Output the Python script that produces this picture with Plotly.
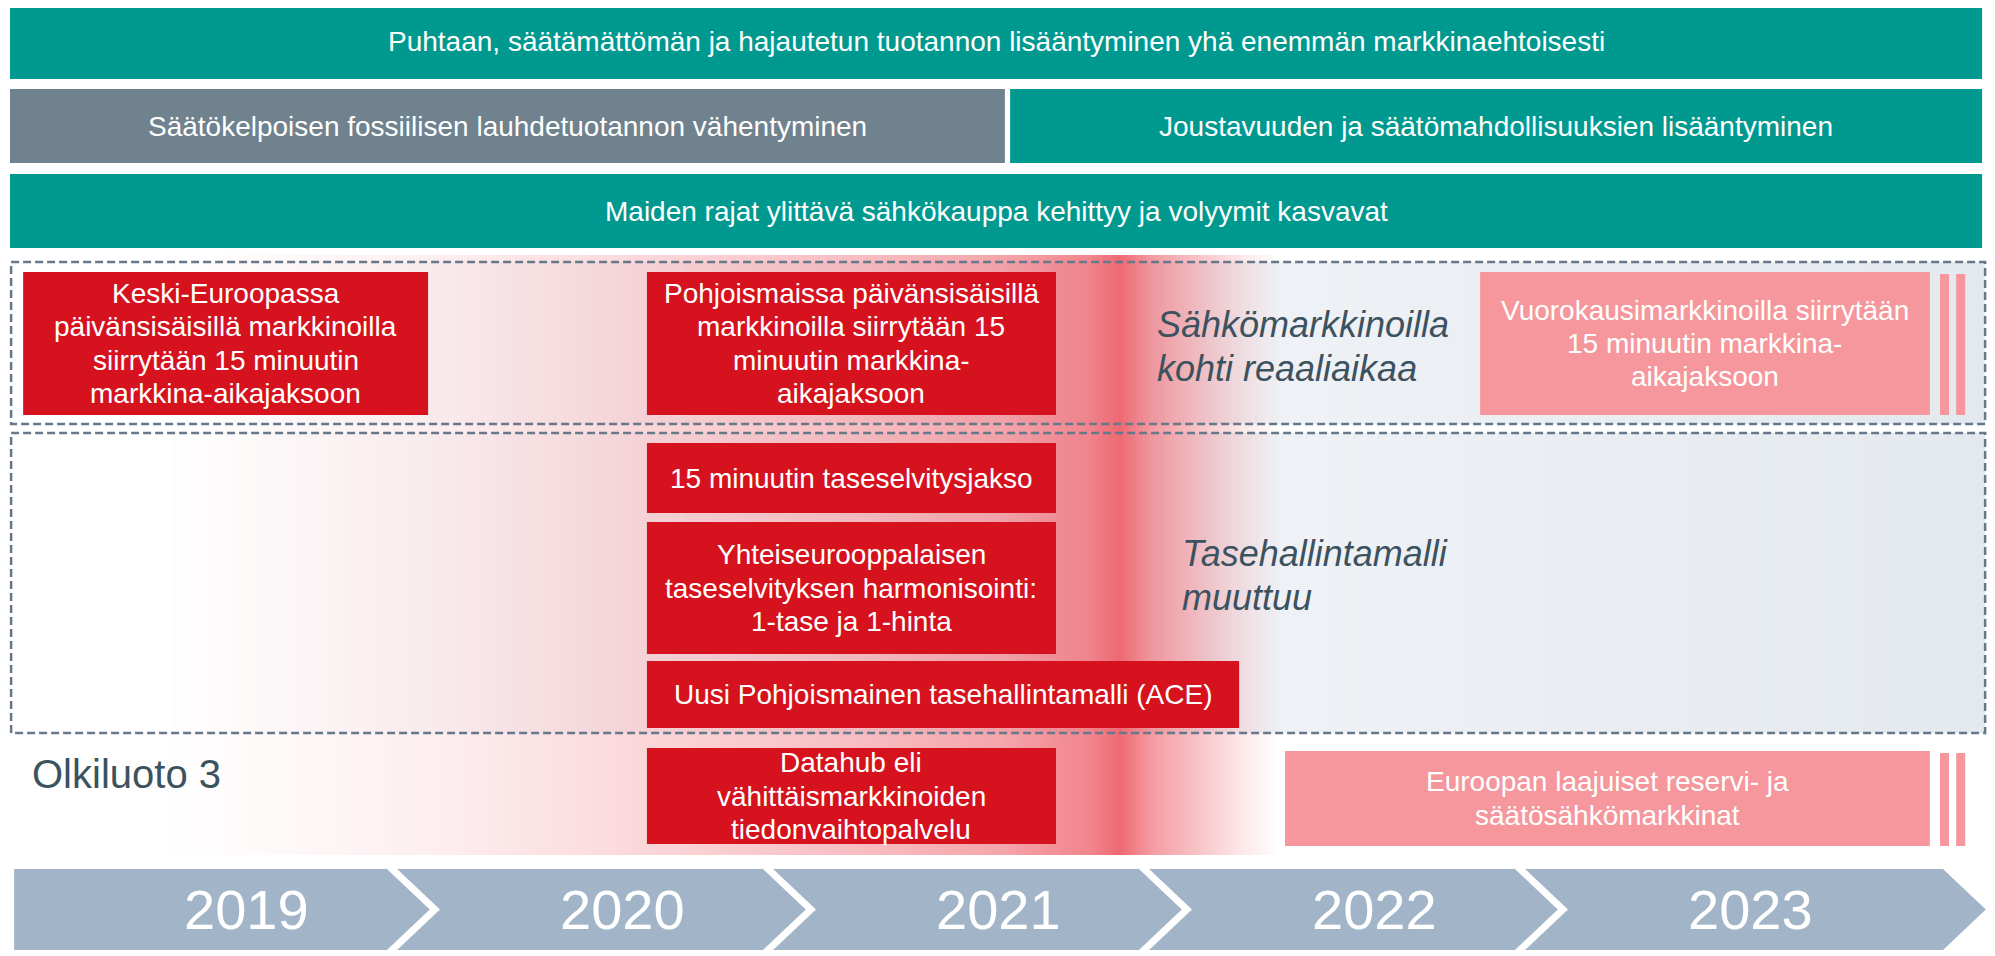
import numpy as np
import plotly.graph_objects as go

# years on the chevron strip
years = [2019, 2020, 2021, 2022, 2023]

# long running trends (top bands), start/end in years
trend_labels = [
    "Puhtaan, säätämättömän ja hajautetun tuotannon lisääntyminen yhä enemmän markkinaehtoisesti",
    "Säätökelpoisen fossiilisen lauhdetuotannon vähentyminen",
    "Joustavuuden ja säätömahdollisuuksien lisääntyminen",
    "Maiden rajat ylittävä sähkökauppa kehittyy ja volyymit kasvavat",
]
trend_start = [2018.984, 2018.984, 2021.644, 2018.984]
trend_end = [2024.229, 2021.630, 2024.229, 2024.229]
trend_row = [0, 1, 1, 2]
trend_declining = [False, True, False, False]

# market changes, start/end in years
change_labels = [
    "Keski-Euroopassa\npäivänsisäisillä markkinoilla\nsiirrytään 15 minuutin\nmarkkina-aikajaksoon",
    "Pohjoismaissa päivänsisäisillä\nmarkkinoilla siirrytään 15\nminuutin markkina-\naikajaksoon",
    "Vuorokausimarkkinoilla siirrytään\n15 minuutin markkina-\naikajaksoon",
    "15 minuutin taseselvitysjakso",
    "Yhteiseurooppalaisen\ntaseselvityksen harmonisointi:\n1-tase ja 1-hinta",
    "Uusi Pohjoismainen tasehallintamalli (ACE)",
    "Datahub eli\nvähittäismarkkinoiden\ntiedonvaihtopalvelu",
    "Euroopan laajuiset reservi- ja\nsäätösähkömarkkinat",
]
change_start = [2019.019, 2020.678, 2022.894, 2020.678, 2020.678, 2020.678, 2020.678, 2022.375]
change_end = [2020.096, 2021.766, 2024.090, 2021.766, 2021.766, 2022.253, 2021.766, 2024.090]
change_lane = ["market", "market", "market", "settle", "harmonise", "ace", "datahub", "reserve"]
change_planned = [False, False, True, False, False, False, False, True]

section_labels = ["Sähkömarkkinoilla\nkohti reaaliaikaa", "Tasehallintamalli\nmuuttuu"]
side_note = "Olkiluoto 3"

# ---- layout / style ----
W, H = 1995, 956
PAGE_OFF = 8  # default body margin of the html page
X0 = 2019 + (PAGE_OFF - 16) / 376
X1 = 2019 + (PAGE_OFF + W - 16) / 376
FONT = "Liberation Sans, Arial, sans-serif"
TEAL = "#00998f"
GRAY = "#6f828e"
RED = "#d5121e"
PINK = "#f5979c"
CHEVRON = "#a2b5c8"
SLATE = "#3c525f"
DASH = "#66788a"

band_y = [(4, 79), (89, 163), (174, 248)]
lane_y = {"market": (272, 415), "settle": (443, 513), "harmonise": (522, 654),
          "ace": (661, 728), "datahub": (748, 844), "reserve": (751, 846)}
section_y = [(262, 424), (433, 733)]
section_x = (2018.987, 2024.237)
section_label_x = [2022.029, 2022.096]
section_label_yc = [346.5, 575.5]
pink_x = (2019.40, 2022.362)
pink_y = (255, 855)
chev_y = (869, 950)
chev_depth = 0.114
chev_gap = 0.027
chev_first = 2018.995
chev_last = 2024.125

fig = go.Figure()

# light fill of the dashed sections
nb = 160
edges = np.linspace(section_x[0], section_x[1], nb + 1)
mids = (edges[:-1] + edges[1:]) / 2
fig.add_trace(go.Heatmap(
    x=edges, y=[section_y[0][0], section_y[0][1], section_y[1][0], section_y[1][1]],
    z=[list(mids), [None] * nb, list(mids)],
    colorscale=[[0, "#ffffff"], [0.06, "#ffffff"], [1, "#e4e9ef"]],
    zmin=section_x[0], zmax=section_x[1], showscale=False, hoverinfo="skip"))

# pink fade band
pstops = [0, 0.12, 0.26, 0.43, 0.62, 0.75, 0.80, 0.828, 0.856, 0.884, 0.92, 0.965, 1]
palpha = [0, 0.05, 0.12, 0.26, 0.42, 0.58, 0.72, 0.78, 0.97, 0.65, 0.42, 0.15, 0]
pink_scale = [[s, "rgba(238,100,110,%.3f)" % a] for s, a in zip(pstops, palpha)]
pe = np.linspace(pink_x[0], pink_x[1], 301)
pm = (pe[:-1] + pe[1:]) / 2
fig.add_trace(go.Heatmap(
    x=pe, y=list(pink_y), z=[list(pm)], colorscale=pink_scale,
    zmin=pink_x[0], zmax=pink_x[1], showscale=False, hoverinfo="skip"))


def add_text(text, x, yc, size, color, spacing, xanchor="center", italic=False):
    lines = text.split("\n")
    n = len(lines)
    for i, line in enumerate(lines):
        t = "<i>%s</i>" % line if italic else line
        fig.add_annotation(x=x, y=yc + (i - (n - 1) / 2) * spacing, text=t,
                           xref="x", yref="y", showarrow=False,
                           xanchor=xanchor, yanchor="middle",
                           font=dict(family=FONT, size=size, color=color))


# trend bands
for lab, s, e, r, dec in zip(trend_labels, trend_start, trend_end, trend_row, trend_declining):
    y0, y1 = band_y[r]
    fig.add_shape(type="rect", x0=s, x1=e, y0=y0, y1=y1, layer="above",
                  fillcolor=GRAY if dec else TEAL, line=dict(width=0))
    add_text(lab, (s + e) / 2, (y0 + y1) / 2, 28, "white", 33)

# dashed sections
for (y0, y1) in section_y:
    fig.add_shape(type="rect", x0=section_x[0], x1=section_x[1], y0=y0, y1=y1,
                  layer="above", fillcolor="rgba(0,0,0,0)",
                  line=dict(color=DASH, width=2.5, dash="8px,4px"))

# change boxes
for lab, s, e, lane, plan in zip(change_labels, change_start, change_end, change_lane, change_planned):
    y0, y1 = lane_y[lane]
    col = PINK if plan else RED
    fig.add_shape(type="rect", x0=s, x1=e, y0=y0, y1=y1, layer="above",
                  fillcolor=col, line=dict(width=0))
    if plan:
        # continuation marks
        for a, b in [(0.027, 0.051), (0.070, 0.094)]:
            fig.add_shape(type="rect", x0=e + a, x1=e + b, y0=y0 + 2, y1=y1,
                          layer="above", fillcolor=col, line=dict(width=0))
    add_text(lab, (s + e) / 2, (y0 + y1) / 2, 28, "white", 33.3)

# section titles
for lab, x, yc in zip(section_labels, section_label_x, section_label_yc):
    add_text(lab, x, yc, 36, SLATE, 44, xanchor="left", italic=True)

add_text(side_note, 2019.037, 774, 40, SLATE, 40, xanchor="left")

# chevron strip
cy0, cy1 = chev_y
cm = (cy0 + cy1) / 2
for i, yr in enumerate(years):
    left = chev_first if i == 0 else yr + chev_gap / 2
    right = chev_last if i == len(years) - 1 else yr + 1 - chev_gap / 2
    p = "M%.4f,%s L%.4f,%s L%.4f,%s L%.4f,%s L%.4f,%s" % (
        left, cy0, right, cy0, right + chev_depth, cm, right, cy1, left, cy1)
    if i > 0:
        p += " L%.4f,%s" % (left + chev_depth, cm)
    p += " Z"
    fig.add_shape(type="path", path=p, layer="above", fillcolor=CHEVRON, line=dict(width=0))
    add_text(str(yr), yr + 0.5 + chev_depth, cm, 56, "white", 0)

fig.update_xaxes(range=[X0, X1], visible=False, showgrid=False, zeroline=False, fixedrange=True)
fig.update_yaxes(range=[H + PAGE_OFF, PAGE_OFF], visible=False, showgrid=False,
                 zeroline=False, fixedrange=True)
fig.update_layout(width=W, height=H, margin=dict(l=0, r=0, t=0, b=0),
                  paper_bgcolor="white", plot_bgcolor="white", showlegend=False)

fig.write_html("out.html")
